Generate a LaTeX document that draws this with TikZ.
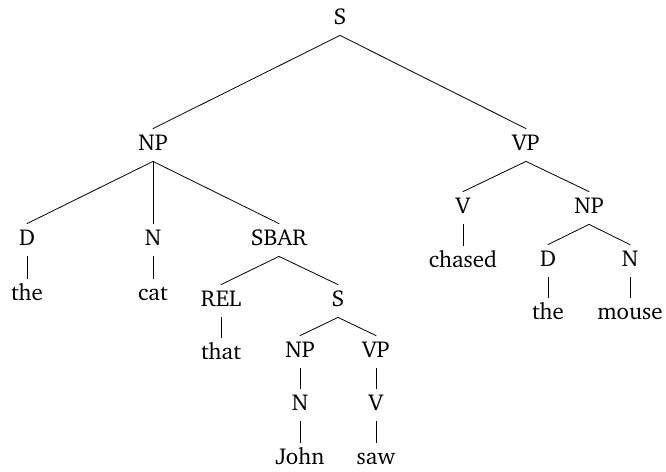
\documentclass[tikz,border=0pt]{standalone}
\usepackage[T1]{fontenc}
\usepackage{charter}
\usetikzlibrary{positioning}
\tikzset{cat/.style={anchor=base,font=\fontsize{23}{27}\selectfont,text height=15pt,text depth=5pt,inner xsep=0pt,inner ysep=6pt}}
\begin{document}
\begin{tikzpicture}[line cap=round,line join=round,line width=0.8pt,x=1pt,y=-1pt]
\useasboundingbox (0,0) rectangle (666,471);
% top level
\node[cat] (s) at (340,24) {S};
\node[cat] (np) at (153,150) {NP};
\node[cat] (vp) at (526,150) {VP};
% subject
\node[cat] (d) at (27,245) {D};
\node[cat] (n) at (153,245) {N};
\node[cat] (sbar) at (279,245) {SBAR};
\node[cat] (the) at (27,300) {the};
\node[cat] (cat) at (153,300) {cat};
\node[cat] (rel) at (221,306) {REL};
\node[cat] (s2) at (338,306) {S};
\node[cat] (that) at (221,359) {that};
\node[cat] (np2) at (300,357) {NP};
\node[cat] (vp2) at (376,357) {VP};
\node[cat] (n2) at (300,410) {N};
\node[cat] (v2) at (376,410) {V};
\node[cat] (john) at (300,464) {John};
\node[cat] (saw) at (376,464) {saw};
% predicate
\node[cat] (v) at (463,213) {V};
\node[cat] (np3) at (589,213) {NP};
\node[cat] (chased) at (463,267) {chased};
\node[cat] (d3) at (548,266) {D};
\node[cat] (n3) at (630,266) {N};
\node[cat] (the3) at (548,319) {the};
\node[cat] (mouse) at (630,319) {mouse};
% branches
\draw (s.south) -- (np.north);
\draw (s.south) -- (vp.north);
\draw (np.south) -- (d.north);
\draw (np.south) -- (n.north);
\draw (np.south) -- (sbar.north);
\draw (d.south) -- (the.north);
\draw (n.south) -- (cat.north);
\draw (sbar.south) -- (rel.north);
\draw (sbar.south) -- (s2.north);
\draw (rel.south) -- (that.north);
\draw (s2.south) -- (np2.north);
\draw (s2.south) -- (vp2.north);
\draw (np2.south) -- (n2.north);
\draw (vp2.south) -- (v2.north);
\draw (n2.south) -- (john.north);
\draw (v2.south) -- (saw.north);
\draw (vp.south) -- (v.north);
\draw (vp.south) -- (np3.north);
\draw (v.south) -- (chased.north);
\draw (np3.south) -- (d3.north);
\draw (np3.south) -- (n3.north);
\draw (d3.south) -- (the3.north);
\draw (n3.south) -- (mouse.north);
\end{tikzpicture}
\end{document}
